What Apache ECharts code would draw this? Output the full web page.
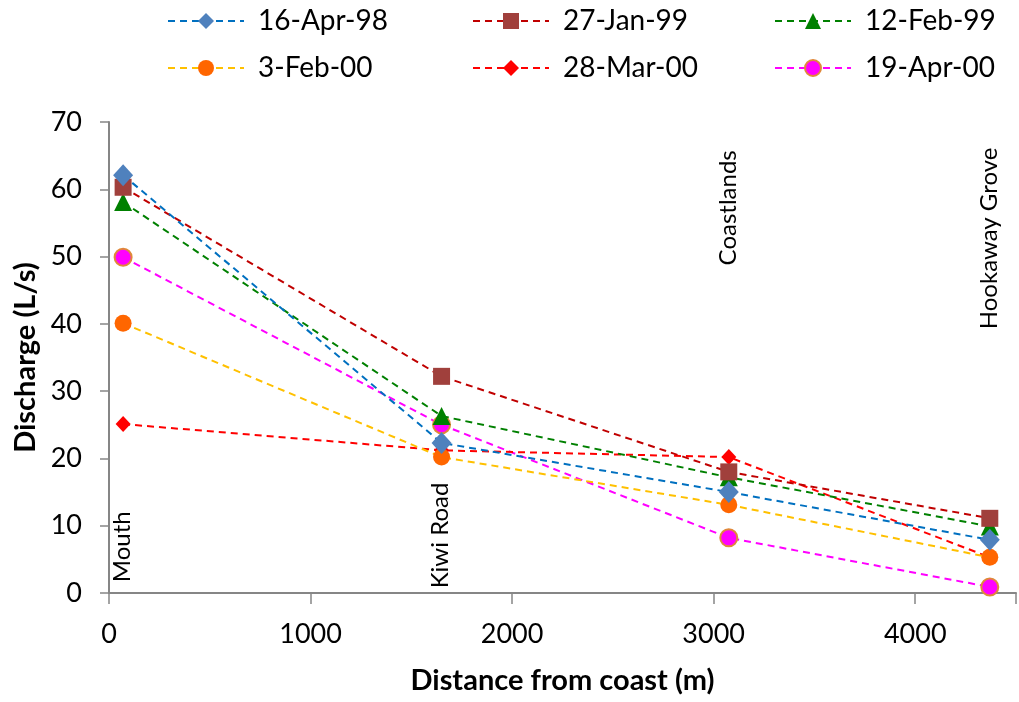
<!DOCTYPE html>
<html><head><meta charset="utf-8">
<script src="https://cdn.jsdelivr.net/npm/echarts@6/dist/echarts.min.js"></script>
<style>html,body{margin:0;padding:0;background:#fff}#c{width:1019px;height:702px}</style>
</head><body><div id="c"></div>
<script>
const distances = [70, 1650, 3075, 4370];
const sites = ['Mouth', 'Kiwi Road', 'Coastlands', 'Hookaway Grove'];
const seriesNames = ['16-Apr-98', '27-Jan-99', '12-Feb-99', '3-Feb-00', '28-Mar-00', '19-Apr-00'];
const apr98 = [62.1, 22.3, 15, 7.9];
const jan99 = [60.3, 32.2, 18, 11.1];
const feb99 = [58.1, 26.3, 17.2, 9.9];
const feb00 = [40.1, 20.2, 13.1, 5.3];
const mar00 = [25.1, 21.2, 20.2, 5.3];
const apr00 = [49.9, 25, 8.2, 0.9];
const yTicks = [0, 10, 20, 30, 40, 50, 60, 70];
const xTicks = [0, 1000, 2000, 3000, 4000];

const FONT = 'Lato';
const values = [apr98, jan99, feb99, feb00, mar00, apr00];
const styles = [
  {line:'#0070C0', fill:'#4F81BD', border:null, symbol:'diamond', size:[20,22]},
  {line:'#C00000', fill:'#A0403C', border:null, symbol:'rect', size:17},
  {line:'#008000', fill:'#008000', border:null, symbol:'triangle', size:18},
  {line:'#FFC000', fill:'#FF6600', border:null, symbol:'circle', size:17},
  {line:'#FF0000', fill:'#FF0000', border:null, symbol:'diamond', size:[15,16]},
  {line:'#FF00FF', fill:'#FF00FF', border:'#E0883A', symbol:'circle', size:17}
];
const series = seriesNames.map((n, i) => ({
  name: n, type: 'line',
  data: distances.map((d, j) => [d, values[i][j]]),
  symbol: styles[i].symbol, symbolSize: styles[i].size,
  lineStyle: {color: styles[i].line, width: 2, type: [7, 5]},
  itemStyle: {color: styles[i].fill, borderColor: styles[i].border || styles[i].fill, borderWidth: styles[i].border ? 2 : 0},
  z: 10 - i
}));
const legendPos = [[167,21],[472,21],[774,21],[167,68],[472,68],[774,68]];
const legends = seriesNames.map((n, i) => ({
  data: [n], left: legendPos[i][0], top: legendPos[i][1] - 16,
  itemWidth: 76, itemHeight: 20, itemGap: 0, padding: 0,
  textStyle: {fontFamily: FONT, fontSize: 28, color: '#000', padding: [0,0,0,9], lineHeight: 32},
  selectedMode: false
}));
const chart = echarts.init(document.getElementById('c'));
chart.setOption({
  animation: false,
  legend: legends,
  grid: {left: 109, right: 0, top: 122, bottom: 109, containLabel: false},
  xAxis: {
    type: 'value', min: 0, max: 4500, interval: 1000,
    name: 'Distance from coast (m)', nameLocation: 'middle', nameGap: 73,
    nameTextStyle: {fontFamily: FONT, fontSize: 29, fontWeight: 'bold', color: '#000'},
    axisLine: {lineStyle: {color: '#868686', width: 2}},
    axisTick: {show: true, length: 11, lineStyle: {color: '#868686', width: 1.5}},
    axisLabel: {fontFamily: FONT, fontSize: 27, color: '#000', margin: 28,
      formatter: v => xTicks.includes(v) ? String(v) : ''},
    splitLine: {show: false}
  },
  yAxis: {
    type: 'value', min: 0, max: 70, interval: 10,
    name: 'Discharge (L/s)', nameLocation: 'middle', nameGap: 69, nameRotate: 90,
    nameTextStyle: {fontFamily: FONT, fontSize: 29, fontWeight: 'bold', color: '#000'},
    axisLine: {show: true, lineStyle: {color: '#868686', width: 2}},
    axisTick: {show: true, length: 9, lineStyle: {color: '#868686', width: 1.5}},
    axisLabel: {fontFamily: FONT, fontSize: 27, color: '#000', margin: 27,
      formatter: v => yTicks.includes(v) ? String(v) : ''},
    splitLine: {show: false}
  },
  series: series
});
// site labels (vertical text) placed via the chart's own scales
const siteAnchor = [
  {y: 1.6, align: 'left'},
  {y: 0.7, align: 'left'},
  {y: 65.8, align: 'right'},
  {y: 66.2, align: 'right'}
];
const graphics = sites.map((s, i) => {
  const p = chart.convertToPixel({gridIndex: 0}, [distances[i], siteAnchor[i].y]);
  return {type: 'text', x: p[0] - 1, y: p[1], rotation: Math.PI / 2,
    style: {text: s, font: '24px ' + FONT, fill: '#000', textAlign: siteAnchor[i].align, textVerticalAlign: 'middle'}, z: 100};
});
chart.setOption({graphic: graphics});
</script></body></html>
